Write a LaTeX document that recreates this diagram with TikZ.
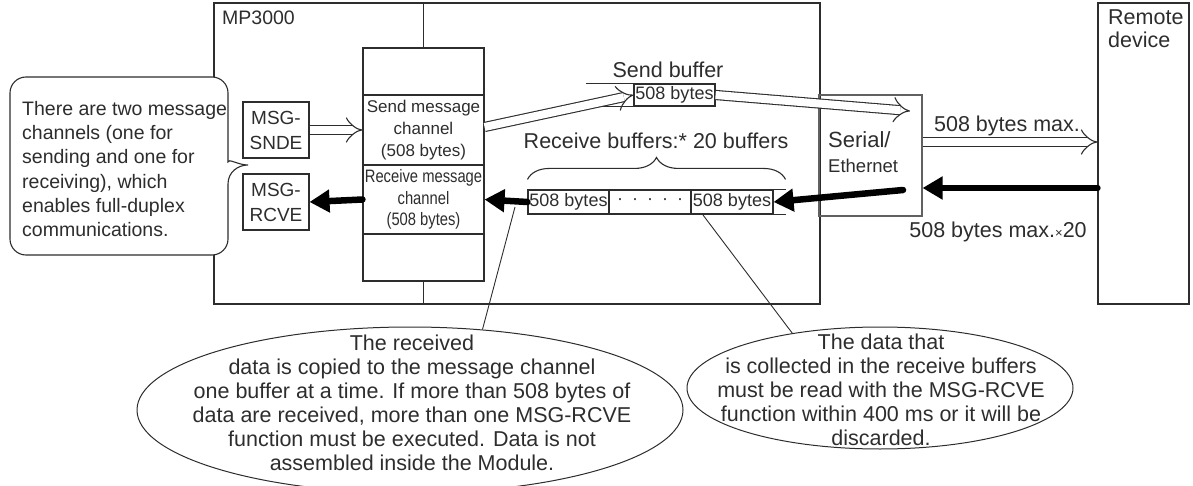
\documentclass[tikz,border=0pt]{standalone}
\usepackage{fontspec}
\setmainfont{Liberation Sans}
\newfontfamily\narrowsf[FakeStretch=0.82]{Liberation Sans}
\usepackage{tikz}
\usetikzlibrary{arrows.meta,shapes.geometric,decorations.pathreplacing}
\definecolor{ink}{RGB}{45,45,45}

\begin{document}
\begin{tikzpicture}[
  x=1pt, y=-1pt,
  every node/.style={text=ink, inner sep=0pt},
  line/.style={draw=ink, line width=1.1pt},
  box/.style={draw=ink, line width=1.1pt, align=center},
  lbl/.style={font=\fontsize{19.5pt}{24pt}\selectfont},
  biglbl/.style={font=\fontsize{21.5pt}{23pt}\selectfont},
  buf/.style={font=\fontsize{18pt}{20pt}\selectfont},
  hollow/.style={draw=ink, line width=1.1pt, double=white, double distance=8pt, -{Implies}},
  heavy/.style={draw=black, line width=6.5pt, line cap=round, -{Triangle[length=20pt, width=22pt]}},
  callout/.style={ellipse, draw=ink, line width=1pt},
  notetxt/.style={align=center, font=\fontsize{21.5pt}{24pt}\selectfont}
]
\useasboundingbox (0,0) rectangle (1193,486);

% module and remote device
\node[box, minimum width=606pt, minimum height=301pt] (mp) at (517,153.5) {};
\node[lbl, anchor=base west] (mplbl) at (222,25) {MP3000};
\node[box, minimum width=91pt, minimum height=301pt] (remote) at (1143.5,153.5) {};
\node[biglbl, anchor=north west, align=left] (remlbl) at (1108,10) {Remote\\device};

% message channels
\node[box, minimum width=121pt, minimum height=47pt] (stktop) at (423.5,71.5) {};
\node[box, minimum width=121pt, minimum height=70pt, font=\fontsize{17pt}{22pt}\selectfont] (sendch) at (423.5,130) {Send message\\channel\\(508 bytes)};
\node[box, minimum width=121pt, minimum height=69pt, font=\narrowsf\fontsize{18pt}{21.5pt}\selectfont] (recvch) at (423.5,199.5) {Receive message\\channel\\(508 bytes)};
\node[box, minimum width=121pt, minimum height=47pt] (stkbot) at (423.5,257.5) {};
\draw[line] (stktop.north) -- (stktop.north |- mp.north);
\draw[line] (stkbot.south) -- (stkbot.south |- mp.south);

\node[box, lbl, minimum width=66pt, minimum height=56pt, font=\fontsize{19pt}{25pt}\selectfont] (snde) at (276,130) {MSG-\\SNDE};
\node[box, lbl, minimum width=66pt, minimum height=56pt, font=\fontsize{19pt}{25pt}\selectfont] (rcve) at (276,202) {MSG-\\RCVE};

% serial / ethernet port
\node[box, draw=ink!75, minimum width=103pt, minimum height=121pt] (ser) at (870.5,155.5) {};
\node[anchor=base west, font=\fontsize{22pt}{24pt}\selectfont] (serlbl) at (828,148) {Serial/};
\node[anchor=base west, font=\fontsize{18.5pt}{20pt}\selectfont] (ethlbl) at (828,173) {Ethernet};

% send buffer
\node[box, buf, minimum width=81pt, minimum height=22pt] (sbuf) at (674.5,95) {508 bytes};
\draw[line] (sbuf.north west) -- ++(-47,0);
\draw[line] (sbuf.south west) -- ++(-47,0);
\node[biglbl, anchor=base] (sbuflbl) at (668,78) {Send buffer};

% receive buffers
\node[box, buf, minimum width=81pt, minimum height=24pt] (rb1) at (568.5,202) {508 bytes};
\node[box, buf, minimum width=82pt, minimum height=24pt] (rbdots) at (650,202) {·\enspace·\enspace·\enspace·\enspace·};
\node[box, buf, minimum width=82pt, minimum height=24pt] (rb2) at (732,202) {508 bytes};
\draw[line] (rb2.north east) -- ++(12,0);
\draw[line] (rb2.south east) -- ++(12,0);
\draw[line, decorate, decoration={brace, amplitude=22pt}]
  ([yshift=10pt]rb1.north west) -- ([xshift=12pt,yshift=10pt]rb2.north east);
\node[biglbl, anchor=base] (rbuflbl) at (656,149) {Receive buffers:* 20 buffers};

% data flow
\coordinate (serin) at (910,111);
\coordinate (serout) at (903,190);
\draw[hollow] (snde) -- (sendch);
\draw[hollow] ([yshift=3pt]sendch.east) -- (sbuf.west);
\draw[hollow] (sbuf.east) -- (serin);
\draw[hollow] ([yshift=13.5pt]ser.east) -- ([yshift=13.5pt]ser.east -| remote.west);
\node[biglbl, anchor=base] (maxlbl) at (1007,132) {508 bytes max.};
\draw[heavy] ([yshift=-32.5pt]ser.east -| remote.west) -- ([yshift=-32.5pt]ser.east);
\node[biglbl, anchor=base] (max20lbl) at (998,237) {508 bytes max.{\fontsize{13pt}{13pt}\selectfont ×}20};
\draw[heavy] (serout) -- (rb2.east);
\draw[heavy] (rb1.west) -- (recvch.east);
\draw[heavy] (recvch.west) -- (rcve.east);

% left balloon
\draw[line, fill=white, rounded corners=16pt] (228,200) -- (228,255) -- (10,255) -- (10,77) -- (228,77) -- (228,146)
  [sharp corners] .. controls (228,158) and (238,165) .. (248,165) .. controls (238,165) and (228,172) .. (228,184) -- cycle;
\node[lbl, anchor=west, align=left, font=\fontsize{19.5pt}{24.2pt}\selectfont] (note0) at (22,169)
  {There are two message\\channels (one for\\sending and one for\\receiving), which\\enables full-duplex\\communications.};

% notes
\node[callout, minimum width=546pt, minimum height=166pt] (ell1) at (410,410) {};
\node[notetxt] (note1) at (412,403) {The received\\data is copied to the message channel\\one buffer at a time. If more than 508 bytes of\\data are received, more than one MSG-RCVE\\function must be executed. Data is not\\assembled inside the Module.};
\node[callout, minimum width=386pt, minimum height=122pt] (ell2) at (880,388) {};
\node[notetxt] (note2) at (881,389.5) {The data that\\is collected in the receive buffers\\must be read with the MSG-RCVE\\function within 400 ms or it will be\\discarded.};
\coordinate (tip1) at (515,207);
\coordinate (tip2) at (703,215);
\draw[draw=ink, line width=0.9pt] (tip1) -- (ell1.48);
\draw[draw=ink, line width=0.9pt] (tip2) -- (ell2.148);
\end{tikzpicture}
\end{document}
